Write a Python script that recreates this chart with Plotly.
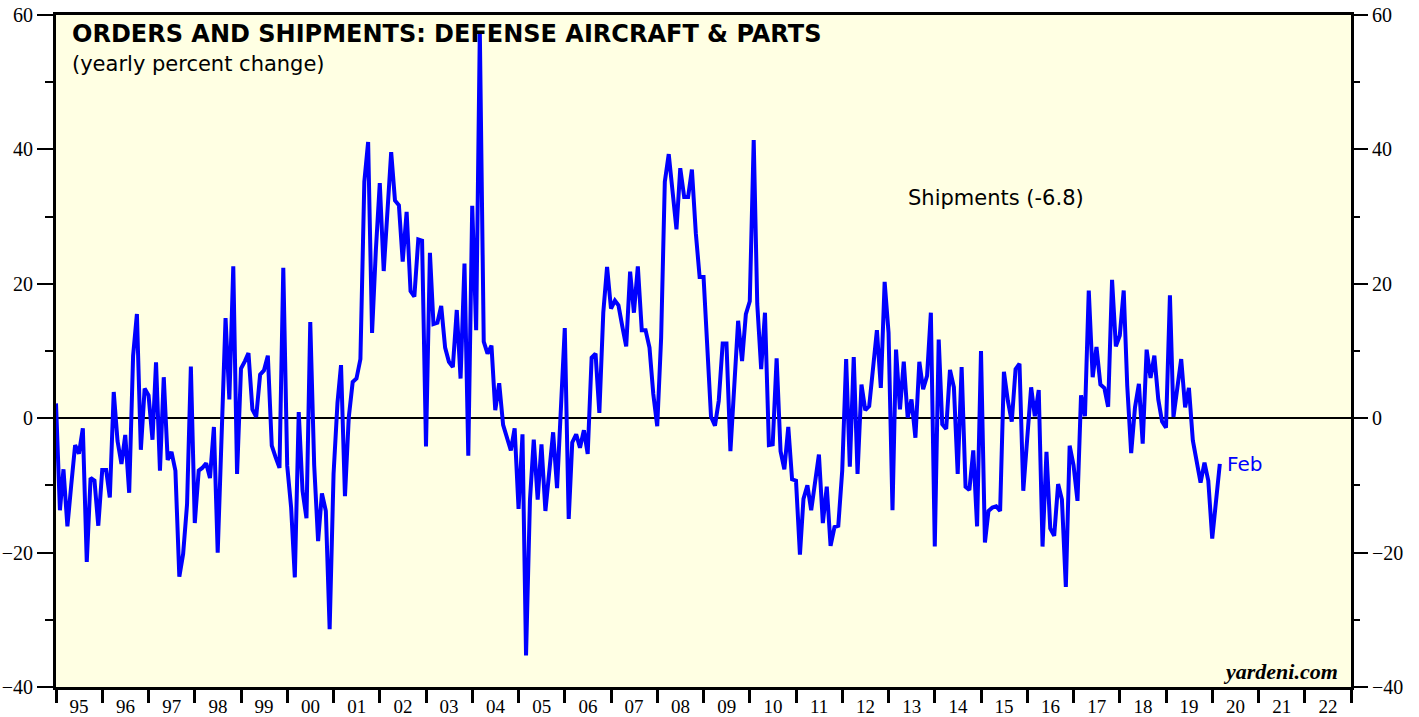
import pandas as pd
import plotly.graph_objects as go

# Yearly % change in shipments of defense aircraft & parts (monthly, last = Feb 2020)
seg_1 = [2.2, -13.7, -7.6, -16.1, -10.0, -4.0, -5.3, -1.5, -21.4, -8.9, -9.3, -16.0,
         -7.7, -7.7, -11.8, 3.9, -3.4, -6.8, -2.5, -11.1, 9.3, 15.5, -4.7, 4.4,
         3.4, -3.2, 8.3, -7.8, 6.1, -6.2, -5.0, -7.8, -23.6, -20.2, -12.8, 7.7,
         -15.6, -7.8, -7.4, -6.7, -8.9, -1.3, -20.0, -2.5, 14.9, 2.8, 22.6, -8.3]
seg_2 = [7.4, 8.5, 9.7, 1.3, 0.2, 6.5, 7.1, 9.3, -4.1, -5.8, -7.4, 22.4,
         -7.1, -13.3, -23.7, 0.9, -10.8, -14.9, 14.3, -7.0, -18.3, -11.2, -13.8, -31.4,
         -8.3, 2.3, 7.9, -11.6, 0.1, 5.4, 5.9, 8.8, 35.2, 41.1, 12.7, 25.0,
         35.0, 21.9, 31.0, 39.6, 32.4, 31.7, 23.3, 30.7, 18.9, 18.1, 26.6, 26.4]
seg_3 = [-4.2, 24.6, 14.0, 14.2, 16.7, 10.5, 8.4, 7.6, 16.1, 5.9, 23.0, -5.6,
         31.6, 13.1, 57.6, 11.4, 9.6, 10.8, 1.2, 5.2, -1.0, -2.8, -4.8, -1.5,
         -13.5, -2.4, -35.3, -12.2, -3.2, -12.1, -3.9, -13.8, -7.7, -2.1, -10.4, 0.8,
         13.4, -15.0, -3.6, -2.4, -4.4, -1.8, -5.3, 9.0, 9.6, 0.8]
seg_4 = [15.7, 22.5, 16.3, 17.5, 16.8, 13.6, 10.7, 21.8, 15.7, 22.6, 13.1, 13.1,
         10.5, 3.6, -1.2, 12.0, 35.2, 39.3, 33.7, 28.1, 37.2, 32.9, 32.9, 37.0,
         27.5, 21.0, 21.0, 10.5, 0.2, -1.1, 2.6, 11.1, 11.1, -4.9, 4.8, 14.5,
         8.5, 15.5, 17.4, 41.4, 17.0, 7.3, 15.7, -4.0, -3.9, 8.9]
seg_5 = [-4.9, -7.6, -1.3, -9.1, -9.3, -20.3, -12.0, -10.0, -13.7, -9.0, -5.4, -15.6,
         -10.2, -19.0, -16.2, -16.0, -7.8, 8.8, -7.2, 9.1, -8.3, 5.0, 1.2, 1.8,
         7.0, 13.1, 4.5, 20.3, 12.7, -13.7, 10.2, 1.3, 8.4, 0.1, 2.8, -2.9,
         8.4, 4.3, 6.3, 15.7, -19.1, 11.7, -0.9, -1.6, 7.2, 4.6, -8.3]
seg_6 = [7.6, -10.2, -10.7, -4.8, -16.1, 10.0, -18.5, -13.8, -13.3, -13.1, -13.8, 6.9,
         2.6, -0.5, 7.3, 8.1, -10.8, -3.0, 4.6, 0.3, 4.2, -19.1, -5.0, -16.4,
         -17.5, -9.8, -12.1, -25.1, -4.1, -7.0, -12.3, 3.4, 0.3, 19.0, 6.1, 10.6,
         5.0, 4.5, 1.7, 20.6, 10.7, 12.3, 19.0, 4.8, -5.2, 1.6, 5.1,
         -3.8, 10.2, 6.0, 9.3, 2.8, -0.5, -1.4, 18.3, 0.2, 4.6, 8.8, 1.6,
         4.5, -3.3, -6.3, -9.6, -6.6, -9.3, -17.9, -12.3, -6.8]

shipments = seg_1 + seg_2 + seg_3 + seg_4 + seg_5 + seg_6
last_month = "2020-02"
last_label = "Feb"
year_labels_start, year_labels_end = "1995-01-01", "2023-01-01"

months = pd.period_range(end=last_month, periods=len(shipments), freq="M")
dates = months.to_timestamp(how="end")

SERIF = "Liberation Serif, Times New Roman, serif"
SANS = "DejaVu Sans, Arial, sans-serif"

fig = go.Figure()
fig.add_trace(go.Scatter(x=dates, y=shipments, mode="lines",
                         line=dict(color="#0000FF", width=4), showlegend=False))
fig.add_trace(go.Scatter(x=dates, y=shipments, mode="lines", yaxis="y2",
                         line=dict(color="rgba(0,0,0,0)", width=0), showlegend=False,
                         hoverinfo="skip"))

yax = dict(range=[-40, 60], dtick=20, tick0=0, ticks="outside", ticklen=16, tickwidth=1.5,
           tickcolor="black", showgrid=False, automargin=False, ticklabeloverflow="allow",
           minor=dict(dtick=10, tick0=0, ticks="outside", ticklen=8, tickwidth=1.5,
                      tickcolor="black", showgrid=False),
           tickfont=dict(family=SERIF, size=20, color="black"), fixedrange=True)

fig.update_layout(
    width=1419, height=717,
    margin=dict(l=56, r=68, t=15, b=30, autoexpand=False),
    paper_bgcolor="white", plot_bgcolor="#FFFFE3",
    xaxis=dict(type="date", range=[year_labels_start, year_labels_end], automargin=False,
               tick0="1995-01-01", dtick="M12", tickformat="%y", ticklabelmode="period",
               ticks="outside", ticklen=13, tickwidth=2.5, tickcolor="black",
               ticklabelstandoff=-13, ticklabeloverflow="allow",
               showline=True, linewidth=3, linecolor="black", mirror=True,
               showgrid=False, tickfont=dict(family=SERIF, size=19, color="black")),
    yaxis=dict(**yax, showline=True, linewidth=3, linecolor="black", mirror=True,
               zeroline=True, zerolinecolor="black", zerolinewidth=1.5),
    yaxis2=dict(**yax, overlaying="y", side="right", showline=False, zeroline=False),
)

fig.add_annotation(xref="paper", yref="paper", x=0.011, y=0.9717, xanchor="left", yanchor="middle",
                   text="<b>ORDERS AND SHIPMENTS: DEFENSE AIRCRAFT & PARTS</b>", showarrow=False,
                   font=dict(family=SANS, size=24, color="black"))
fig.add_annotation(xref="paper", yref="paper", x=0.011, y=0.927, xanchor="left", yanchor="middle",
                   text="(yearly percent change)", showarrow=False,
                   font=dict(family=SANS, size=21, color="black"))
fig.add_annotation(xref="paper", yref="paper", x=0.6564, y=0.7277, xanchor="left", yanchor="middle",
                   text=f"Shipments ({shipments[-1]:.1f})", showarrow=False,
                   font=dict(family=SANS, size=21, color="black"))
fig.add_annotation(x=dates[-1], y=shipments[-1], xanchor="left", yanchor="middle", xshift=5,
                   text=last_label, showarrow=False,
                   font=dict(family=SANS, size=20, color="#0000FF"))
fig.add_annotation(xref="paper", yref="paper", x=0.9915, y=0.0238, xanchor="right", yanchor="middle",
                   text="<b><i>yardeni.com</i></b>", showarrow=False,
                   font=dict(family=SERIF, size=22, color="black"))

# remove the default page margin so the figure fills the 1419x717 window exactly
fig.write_html("out.html", config={"displayModeBar": False},
               post_script="document.body.style.margin='0';")
